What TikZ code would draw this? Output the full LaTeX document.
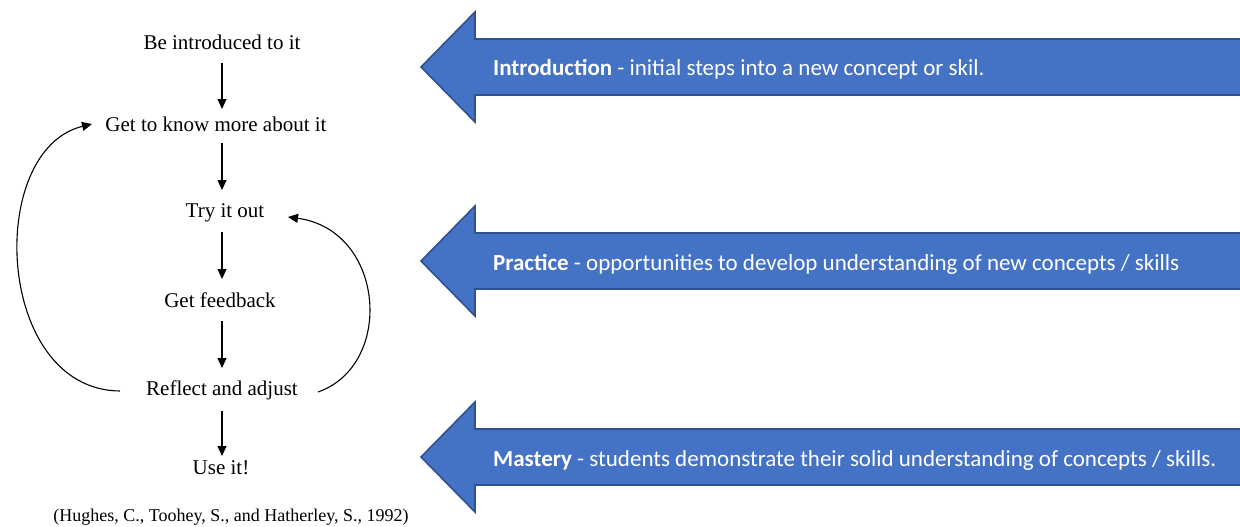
\documentclass[tikz,border=0pt]{standalone}
\usepackage{fontspec}
\setmainfont{Liberation Serif}
\newfontfamily\calib{Carlito}
\usetikzlibrary{arrows.meta}
\definecolor{arrblue}{HTML}{4472C4}
\definecolor{arredge}{HTML}{2F528F}
\begin{document}
\begin{tikzpicture}[x=1pt,y=-1pt,
  stepnode/.style={font=\fontsize{21}{24}\selectfont, inner sep=1pt},
  flow/.style={-{Triangle[length=10pt,width=9pt]}, line width=1.1pt},
  loop/.style={-{Triangle[length=10pt,width=9pt]}, line width=1.1pt},
  banner/.style={fill=arrblue, draw=arredge, line width=1.6pt, line join=miter},
  bannertext/.style={font=\calib\fontsize{23}{26}\selectfont, text=white, anchor=west, inner sep=0pt}]
\useasboundingbox (0,0) rectangle (1240,527);
\fill[white] (0,0) rectangle (1240,527);

% flow nodes
\node[stepnode] (a) at (222,42) {Be introduced to it};
\node[stepnode] (b) at (216,124) {Get to know more about it};
\node[stepnode] (c) at (225,213) {Try it out};
\node[stepnode] (d) at (220,300) {Get feedback};
\node[stepnode] (e) at (222,390) {Reflect and adjust};
\node[stepnode] (f) at (221,468) {Use it!};
\node[font=\fontsize{18}{20}\selectfont, inner sep=0pt] (cite) at (231,517) {(Hughes, C., Toohey, S., and Hatherley, S., 1992)};

\coordinate (a1) at (222,63); \coordinate (b0) at (222,109);
\coordinate (b1) at (222,143); \coordinate (c0) at (222,190);
\coordinate (c1) at (222,232); \coordinate (d0) at (222,279);
\coordinate (d1) at (222,321); \coordinate (e0) at (222,368);
\coordinate (e1) at (222,411); \coordinate (f0) at (222,456);
\draw[flow] (a1) -- (b0);
\draw[flow] (b1) -- (c0);
\draw[flow] (c1) -- (d0);
\draw[flow] (d1) -- (e0);
\draw[flow] (e1) -- (f0);

% loops
\coordinate (eL) at (120,391);
\coordinate (bL) at (92,124);
\coordinate (eR) at (318,392);
\coordinate (cR) at (288,217);
\draw[loop] (eL) .. controls (-5,390) and (-15,150) .. (bL);
\draw[loop] (eR) .. controls (395,365) and (385,230) .. (cR);

% banners
\foreach \cy/\nm in {67/intro, 261/prac, 457/mast} {
  \draw[banner] (1250,\cy-28) -- (475,\cy-28) -- (475,\cy-55) -- (421,\cy) -- (475,\cy+55) -- (475,\cy+28) -- (1250,\cy+28);
}
\node[bannertext] (t1) at (493,69) {\textbf{Introduction} - initial steps into a new concept or skil.};
\node[bannertext] (t2) at (493,264) {\textbf{Practice} - opportunities to develop understanding of new concepts / skills};
\node[bannertext] (t3) at (493,460) {\textbf{Mastery} - students demonstrate their solid understanding of concepts / skills.};
\end{tikzpicture}
\end{document}
